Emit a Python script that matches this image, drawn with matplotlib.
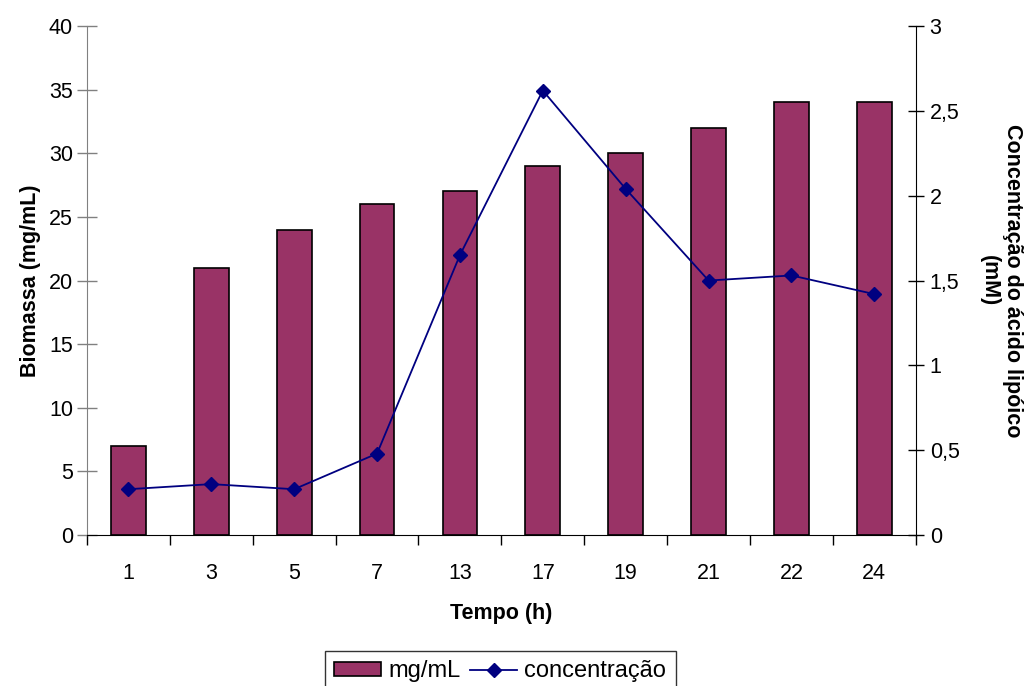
import numpy as np
import matplotlib
matplotlib.use('Agg')
import matplotlib.pyplot as plt
from matplotlib.lines import Line2D
from matplotlib.patches import Patch

plt.rcParams['font.family'] = ['Liberation Sans', 'DejaVu Sans']

tempo = ['1', '3', '5', '7', '13', '17', '19', '21', '22', '24']
biomassa = [7, 21, 24, 26, 27, 29, 30, 32, 34, 34]
concentracao = [0.27, 0.30, 0.27, 0.48, 1.65, 2.62, 2.04, 1.50, 1.53, 1.42]

BAR_COLOR = '#993366'
LINE_COLOR = '#000080'

fig = plt.figure(figsize=(10.29, 6.86), dpi=100, facecolor='white')
ax = fig.add_axes([0.0845, 0.2201, 0.8055, 0.7419])
ax2 = ax.twinx()

x = np.arange(len(tempo))
ax.bar(x, biomassa, width=0.42, color=BAR_COLOR, edgecolor='black', linewidth=1.2, zorder=2)
ax2.plot(x, concentracao, color=LINE_COLOR, lw=1.3, marker='D', ms=7, mfc=LINE_COLOR,
         mec=LINE_COLOR, zorder=3)

ax.set_xlim(-0.5, len(tempo) - 0.5)
ax.set_ylim(0, 40)
ax2.set_ylim(0, 3)

ax.set_xticks(x)
ax.set_xticklabels(tempo)
ax.set_xticks(np.arange(-0.5, len(tempo)), minor=True)
ax.tick_params(axis='x', which='major', length=0, pad=20, labelsize=15.5)
ax.tick_params(axis='x', which='minor', length=7, direction='out', width=1)

ax.set_yticks(np.arange(0, 41, 5))
ax.tick_params(axis='y', direction='inout', length=14, width=1, labelsize=15.5, color='#808080', pad=3)
ax2.set_yticks([0, 0.5, 1, 1.5, 2, 2.5, 3])
ax2.set_yticklabels(['0', '0,5', '1', '1,5', '2', '2,5', '3'])
ax2.tick_params(axis='y', direction='inout', length=12, width=1, labelsize=15.5, pad=4)

ax.spines['top'].set_visible(False)
ax2.spines['top'].set_visible(False)
ax.spines['right'].set_visible(False)
ax2.spines['left'].set_visible(False)
ax.spines['left'].set_color('#808080')
ax2.spines['bottom'].set_visible(False)

ax.set_ylabel('Biomassa (mg/mL)', fontsize=15.5, fontweight='bold', labelpad=6)
ax.set_xlabel('Tempo (h)', fontsize=15.5, fontweight='bold', labelpad=14)
ax2.set_ylabel('Concentração do ácido lipóico\n(mM)', fontsize=15.5, fontweight='bold',
               rotation=270, labelpad=46, linespacing=1.15)

handles = [Patch(facecolor=BAR_COLOR, edgecolor='black', linewidth=1.2),
           Line2D([], [], color=LINE_COLOR, lw=1.3, marker='D', ms=7, mfc=LINE_COLOR)]
leg = fig.legend(handles, ['mg/mL', 'concentração'], loc='upper center',
                 bbox_to_anchor=(0.486, 0.051), ncol=2, fontsize=17, frameon=True,
                 fancybox=False, edgecolor='black', handlelength=2.0, handleheight=0.5,
                 handletextpad=0.3, columnspacing=0.4, borderpad=0.4, borderaxespad=0)
leg.get_frame().set_linewidth(1)

fig.savefig('out.png', dpi=100, facecolor='white')
